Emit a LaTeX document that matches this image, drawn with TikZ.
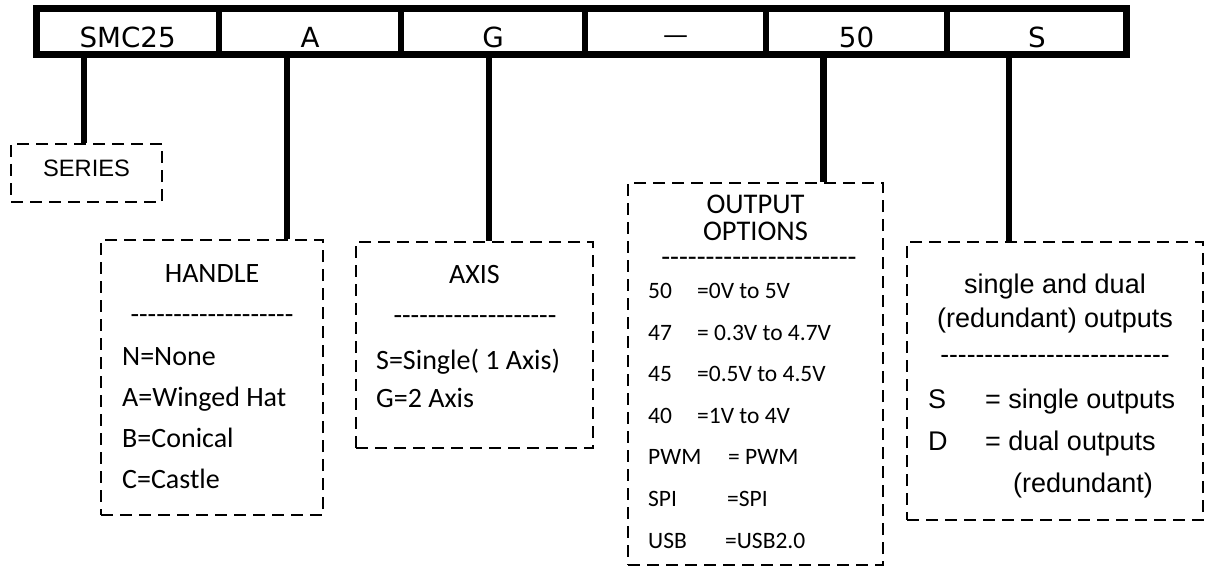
\documentclass[tikz,border=0pt]{standalone}
\usepackage{fontspec}
\newfontfamily\calfont{Carlito}
\newfontfamily\dvfont{DejaVu Sans}
\newfontfamily\arfont{Liberation Sans}
\newcommand\hyph[1]{\foreach\i in {1,...,#1}{-\kern0pt}}
\begin{document}
\begin{tikzpicture}[x=1pt,y=-1pt,
  cell/.style={draw, line width=6.5pt, minimum height=46.4pt, inner sep=0pt,
    text height=20pt, text depth=0pt, font=\dvfont\fontsize{27.7}{33}\selectfont},
  stem/.style={line width=6.5pt},
  dbox/.style={draw, line width=2.9pt, dash pattern=on 12pt off 7pt, inner sep=0pt},
  tx/.style={inner sep=0pt, anchor=base west},
  txc/.style={inner sep=0pt, anchor=base},
  cal/.style={font=\calfont\fontsize{28}{34}\selectfont},
  calsm/.style={font=\calfont\fontsize{23.5}{28}\selectfont},
  arl/.style={font=\arfont\fontsize{27}{32}\selectfont},
  hy/.style={inner sep=0pt, anchor=base, text height=9pt, text depth=0pt}]
\useasboundingbox (0,0) rectangle (1205,567);

% boxes
\node[dbox, minimum width=151pt, minimum height=58pt] (series) at (86.5,173) {};
\node[dbox, minimum width=222pt, minimum height=275pt] (handle) at (212,377.5) {};
\node[dbox, minimum width=237pt, minimum height=206pt] (axis) at (474.5,345) {};
\node[dbox, minimum width=255pt, minimum height=382pt] (output) at (755.5,374) {};
\node[dbox, minimum width=296pt, minimum height=278pt] (redund) at (1055,381) {};

% stems
\coordinate (s1) at (84,54.7);
\coordinate (s2) at (287,54.7);
\coordinate (s3) at (489,54.7);
\coordinate (s4) at (823.5,54.7);
\coordinate (s5) at (1009,54.7);
\draw[stem] (s1) -- (s1 |- series.north);
\draw[stem] (s2) -- (s2 |- handle.north);
\draw[stem] (s3) -- (s3 |- axis.north);
\draw[stem] (s4) -- (s4 |- output.north);
\draw[stem] (s5) -- (s5 |- redund.north);

% top bar cells
\node[cell, minimum width=182.7pt] (c1) at (127.65,31.5) {\raisebox{-6pt}{SMC25}};
\node[cell, minimum width=182pt] (c2) at (310,31.5) {\raisebox{-6pt}{A}};
\node[cell, minimum width=184pt] (c3) at (493,31.5) {\raisebox{-6pt}{G}};
\node[cell, minimum width=181pt] (c4) at (675.5,31.5) {};
\node[cell, minimum width=181pt] (c5) at (856.5,31.5) {\raisebox{-6pt}{50}};
\node[cell, minimum width=179.7pt] (c6) at (1036.85,31.5) {\raisebox{-6pt}{S}};
\node[hy, font=\dvfont\fontsize{25}{28}\selectfont] (dash) at (675.5,44) {—};

% SERIES
\node[txc, font=\arfont\fontsize{23.7}{28}\selectfont] (seriest) at (86.5,177) {SERIES};

% HANDLE
\node[txc, cal] (ht) at (212,282) {HANDLE};
\node[hy, cal] (hd) at (212,323.5) {\hyph{19}};
\node[tx, cal] (h1) at (122,365) {N=None};
\node[tx, cal] (h2) at (122,406) {A=Winged Hat};
\node[tx, cal] (h3) at (122,447) {B=Conical};
\node[tx, cal] (h4) at (122,488) {C=Castle};

% AXIS
\node[txc, cal] (at) at (474.5,283) {AXIS};
\node[hy, cal] (ad) at (475,324.5) {\hyph{19}};
\node[tx, cal] (a1) at (376,369) {S=Single( 1 Axis)};
\node[tx, cal] (a2) at (376,407) {G=2 Axis};

% OUTPUT OPTIONS
\node[txc, font=\calfont\fontsize{28.5}{34}\selectfont] (ot1) at (755.5,213) {OUTPUT};
\node[txc, font=\calfont\fontsize{28.5}{34}\selectfont] (ot2) at (755.5,240) {OPTIONS};
\node[hy, font=\calfont\fontsize{29}{34}\selectfont] (od) at (759,266) {\hyph{22}};
\node[tx, calsm] (o1l) at (648,298) {50};
\node[tx, calsm] (o1v) at (697,298) {=0V to 5V};
\node[tx, calsm] (o2l) at (648,340) {47};
\node[tx, calsm] (o2v) at (697,340) {= 0.3V to 4.7V};
\node[tx, calsm] (o3l) at (648,381) {45};
\node[tx, calsm] (o3v) at (697,381) {=0.5V to 4.5V};
\node[tx, calsm] (o4l) at (648,423) {40};
\node[tx, calsm] (o4v) at (697,423) {=1V to 4V};
\node[tx, calsm] (o5l) at (648,464) {PWM};
\node[tx, calsm] (o5v) at (728,464) {= PWM};
\node[tx, calsm] (o6l) at (648,506) {SPI};
\node[tx, calsm] (o6v) at (727,506) {=SPI};
\node[tx, calsm] (o7l) at (648,548) {USB};
\node[tx, calsm] (o7v) at (725,548) {=USB2.0};

% single and dual
\node[txc, arl] (rt1) at (1055,293) {single and dual};
\node[txc, arl] (rt2) at (1055,327) {(redundant) outputs};
\node[hy, font=\arfont\fontsize{26.5}{30}\selectfont] (rd) at (1055,363.5) {\hyph{26}};
\node[tx, arl] (r1l) at (928,408) {S};
\node[tx, arl] (r1v) at (985,408) {= single outputs};
\node[tx, arl] (r2l) at (928,450) {D};
\node[tx, arl] (r2v) at (985,450) {= dual outputs};
\node[tx, arl] (r3) at (1013,492) {(redundant)};
\end{tikzpicture}
\end{document}
